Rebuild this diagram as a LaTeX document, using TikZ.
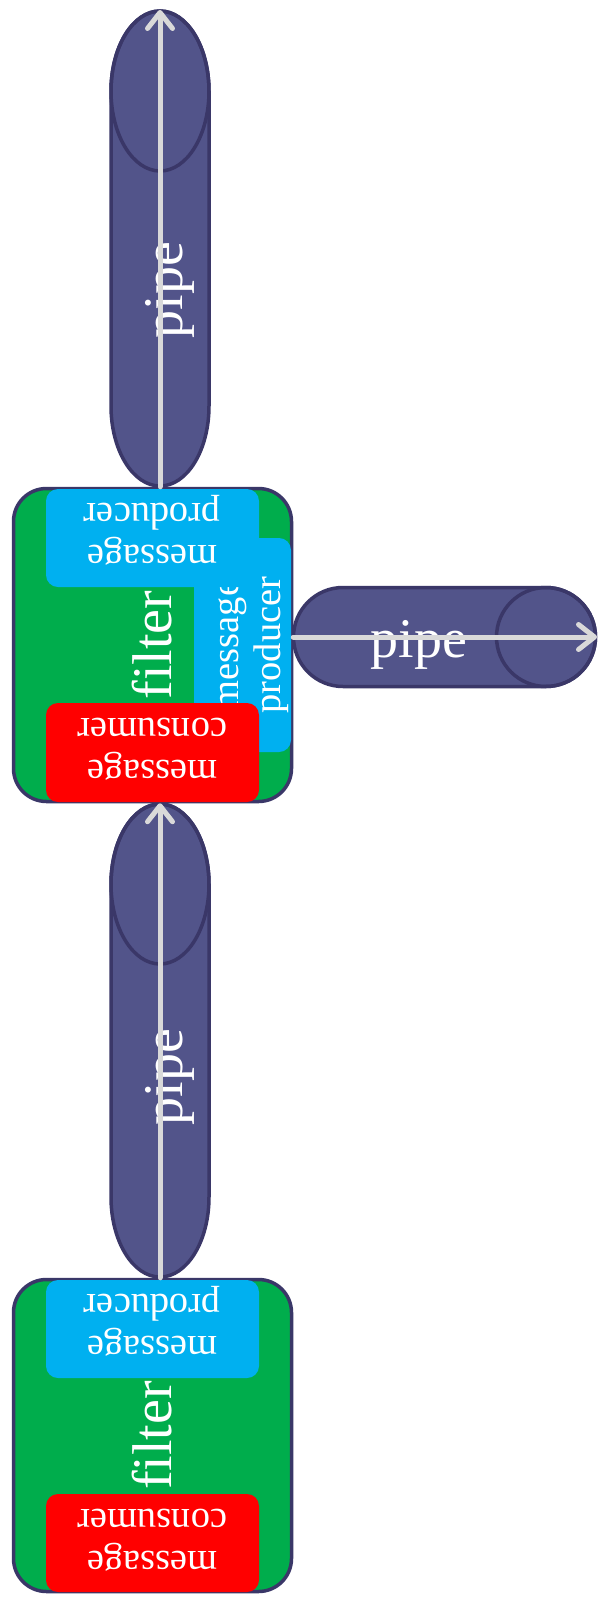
\documentclass[tikz,border=0pt]{standalone}
\usepackage{fontspec}
\setmainfont{Liberation Serif}
\usetikzlibrary{arrows.meta}
\definecolor{pipefill}{HTML}{52548A}
\definecolor{pipeline}{HTML}{3A3768}
\definecolor{filtergreen}{HTML}{00AD4C}
\definecolor{prodblue}{HTML}{00B0F0}
\definecolor{consred}{HTML}{FF0000}
\definecolor{arrowgray}{HTML}{D9D9D9}
\begin{document}
\begin{tikzpicture}[x=1pt,y=-1pt,
  pipebody/.style={fill=pipefill, draw=pipeline, line width=3.5pt},
  pipeend/.style={draw=pipeline, line width=3.5pt},
  filterbox/.style={draw=pipeline, line width=3.5pt, fill=filtergreen, rounded corners=33pt, minimum width=278pt, minimum height=313pt, inner sep=0pt},
  prodbox/.style={fill=prodblue, rounded corners=12pt, inner sep=0pt},
  consbox/.style={fill=consred, rounded corners=12pt, inner sep=0pt},
  bigtext/.style={text=white, font=\fontsize{56pt}{66pt}\selectfont, inner sep=0pt},
  smalltext/.style={text=white, font=\fontsize{38.5pt}{42pt}\selectfont, align=center, inner sep=0pt},
  pipearrow/.style={draw=arrowgray, line width=5pt, line cap=round, -{Straight Barb[length=16pt,width=25pt,round]}},
]
\useasboundingbox[fill=white] (0,0) rectangle (599,1609);

% ---- pipes ----
\path[pipebody] (111,91) -- (111,406) arc[start angle=180, end angle=0, x radius=49, y radius=80]
  -- (209,91) arc[start angle=0, end angle=-180, x radius=49, y radius=80] -- cycle;
\draw[pipeend] (160,91) ellipse[x radius=49, y radius=80];
\node[bigtext, rotate=90, anchor=base] (pipeAtext) at (182,290) {pipe};

\path[pipebody] (111,884) -- (111,1197) arc[start angle=180, end angle=0, x radius=49, y radius=80]
  -- (209,884) arc[start angle=0, end angle=-180, x radius=49, y radius=80] -- cycle;
\draw[pipeend] (160,884) ellipse[x radius=49, y radius=80];
\node[bigtext, rotate=90, anchor=base] (pipeBtext) at (182,1077) {pipe};

\path[pipebody] (343,587.5) -- (546,587.5) arc[start angle=-90, end angle=90, radius=49.5]
  -- (343,686.5) arc[start angle=90, end angle=270, radius=49.5] -- cycle;
\draw[pipeend] (546,637) circle[radius=49.5];
\node[bigtext, anchor=base] (pipeCtext) at (419,657) {pipe};

% ---- middle filter ----
\node[filterbox] (filterA) at (152.5,645) {};
\node[prodbox, minimum width=214pt, minimum height=97pt, rotate=90] (prodA2) at (242.5,645) {};
\node[smalltext, rotate=90] (prodA2text) at (254,645) {message\\producer};
\node[bigtext, rotate=90] (filterAtext) at (152.5,645) {filter};
\node[prodbox, minimum width=213pt, minimum height=98pt] (prodA) at (152.5,538) {};
\node[smalltext, rotate=180] (prodAtext) at (152.5,530) {message\\producer};
\node[consbox, minimum width=213pt, minimum height=99pt] (consA) at (152.5,752.5) {};
\node[smalltext, rotate=180] (consAtext) at (152.5,749.5) {message\\consumer};

% ---- bottom filter ----
\node[filterbox, minimum height=312pt] (filterB) at (152.5,1435.5) {};
\node[bigtext, rotate=90] (filterBtext) at (152.5,1435.5) {filter};
\node[prodbox, minimum width=213pt, minimum height=98pt] (prodB) at (152.5,1329) {};
\node[smalltext, rotate=180] (prodBtext) at (152.5,1321) {message\\producer};
\node[consbox, minimum width=213pt, minimum height=98pt] (consB) at (152.5,1543) {};
\node[smalltext, rotate=180] (consBtext) at (152.5,1540) {message\\consumer};

% ---- flows ----
\coordinate (topEnd) at (160,10);
\coordinate (hEnd) at (597,637);
\draw[pipearrow] (filterA.north -| topEnd) -- (topEnd);
\draw[pipearrow] (filterB.north -| topEnd) -- (filterA.south -| topEnd);
\draw[pipearrow] (filterA.east |- hEnd) -- (hEnd);
\end{tikzpicture}
\end{document}
